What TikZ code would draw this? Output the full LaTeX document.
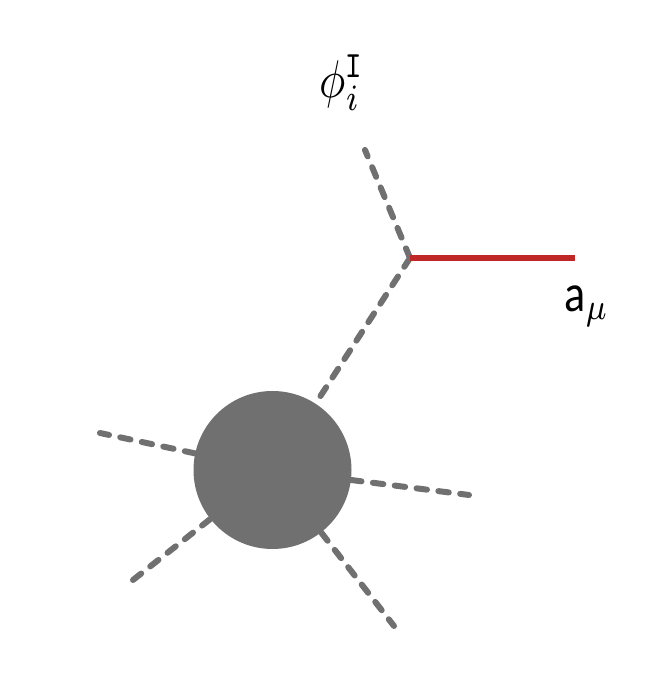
\documentclass[tikz,border=0pt]{standalone}
\usepackage{fontspec}
\newfontfamily\carlito{Carlito}
\definecolor{blobgray}{RGB}{112,112,112}
\definecolor{gaugered}{RGB}{192,40,40}
\tikzset{
  scalar/.style={blobgray,line width=6pt,line cap=round,dash pattern=on 10.5pt off 11.5pt},
  gauge/.style={gaugered,line width=6pt},
  bigtext/.style={xscale=4.4,yscale=5.3,transform shape}
}
\begin{document}
\begin{tikzpicture}[x=1pt,y=1pt]
                \useasboundingbox (0,0) rectangle (664,680);
                \coordinate (V) at (410,422);
                \coordinate (T) at (365,530);
                \coordinate (R) at (575,422);
                \node[circle,fill=blobgray,minimum size=158pt,inner sep=0pt] (B) at (272.5,210) {};
                \coordinate (L1) at (100,247);
                \coordinate (L2) at (469,185);
                \coordinate (L3) at (133,100);
                \coordinate (L4) at (394,54);
                \draw[scalar] (V) -- (T);
                \draw[scalar] (V) -- (B);
                \draw[gauge] (V) -- (R);
                \foreach \leg in {L1,L2,L3,L4}
                    \draw[scalar] (B) -- (\leg);
                \node[bigtext] (phi) at (342,597) {$\phi_i^{\mathtt{I}}$};
                \node[bigtext] (amu) at (587,374) {$\mbox{\carlito a}_\mu$};
\end{tikzpicture}
\end{document}
